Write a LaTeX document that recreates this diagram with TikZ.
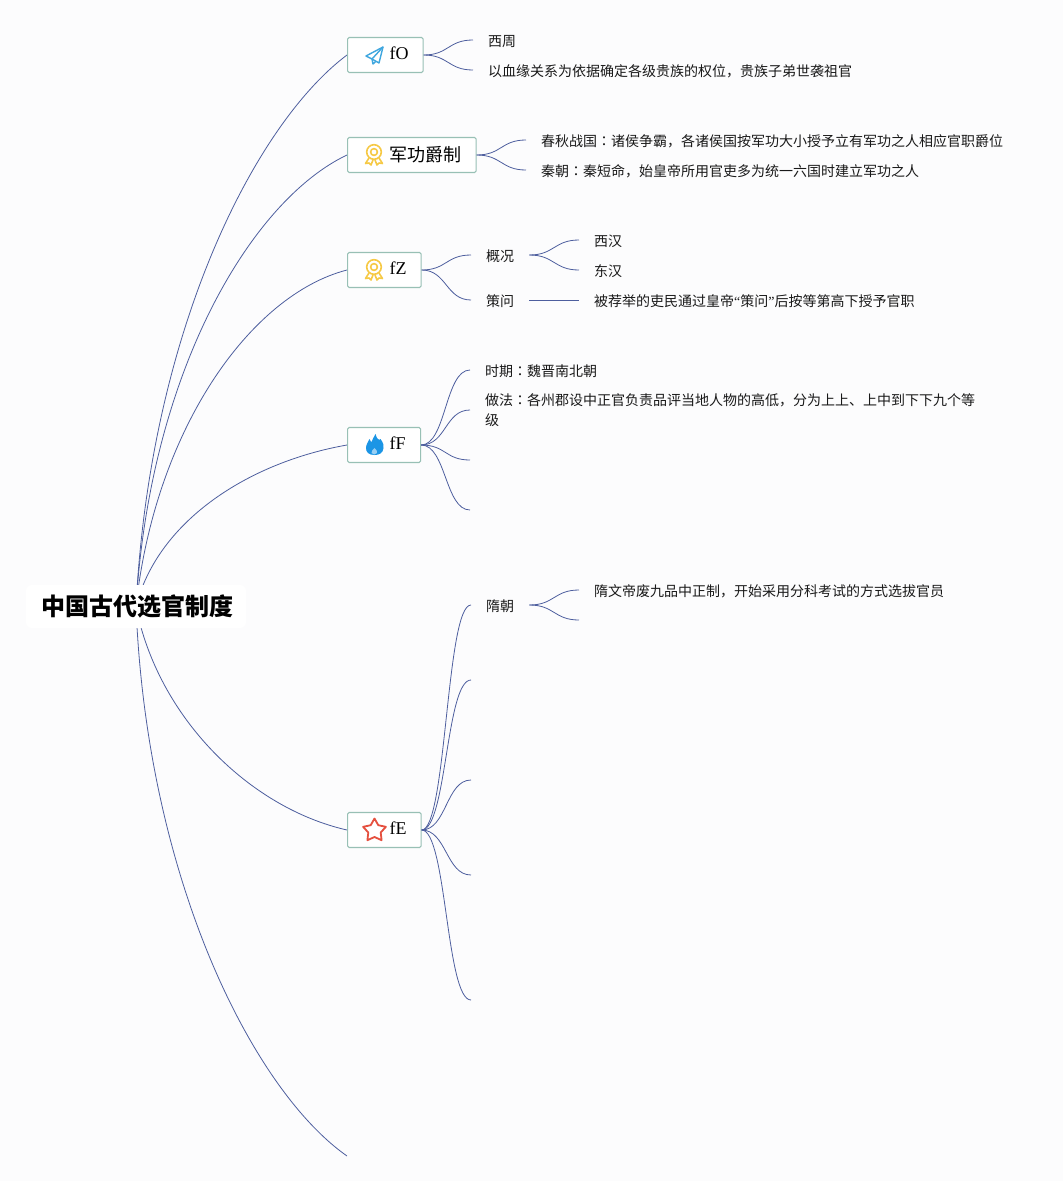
\documentclass[tikz,border=0pt]{standalone}
\usepackage{fontspec}
\setmainfont{Liberation Serif}
\newfontfamily\cjk{Noto Sans CJK SC}
\newfontfamily\cjktc{Noto Sans CJK TC}
\usetikzlibrary{calc,backgrounds}
\definecolor{linkc}{HTML}{4D5E9E}
\definecolor{topicb}{HTML}{98C0B5}
\definecolor{bgc}{HTML}{FCFCFD}
\definecolor{planec}{HTML}{3FA7DF}
\definecolor{rosec}{HTML}{F6C945}
\definecolor{flamec}{HTML}{1B95E5}
\definecolor{starc}{HTML}{E5503F}
\tikzset{
  link/.style={draw=linkc,line width=0.8pt},
  topic/.style={draw=topicb,fill=white,line width=1.1pt,rounded corners=1.5pt,inner xsep=0pt,inner ysep=0pt,minimum height=35pt,anchor=west},
  leaf/.style={anchor=west,inner xsep=15pt,inner ysep=0pt,text height=13pt,text depth=0.5pt,font=\fontsize{14}{20.5}\selectfont\cjk,align=left,text=black!90},
  rootn/.style={fill=white,rounded corners=6pt,inner sep=0pt,minimum width=220pt,minimum height=43pt,font=\fontsize{24}{28}\selectfont\cjk\bfseries},
}
\newcommand\co{{\cjktc ：}}
\newcommand\rl[3]{\draw[link] (root.center) .. controls #2 and #3 .. #1;}
\newcommand\br[2]{\draw[link] #1 .. controls ($#1+(25,0)$) and ($#2+(-25,0)$) .. #2;}
\newcommand\topictext[2]{\makebox[#1pt][l]{\hspace{42pt}\raisebox{3pt}{\fontsize{18}{20}\selectfont #2}\vphantom{O}}}
\newcommand\rosette[1]{\begin{scope}[shift={#1},draw=rosec,line width=1.6pt,line join=round]
  \draw (0,-3) circle (7.3);
  \draw (0,-3) circle (3.4);
  \draw (-5,3) -- (-8.5,8.5) -- (-5,8) -- (-3,10) -- (-1,5);
  \draw (5,3) -- (8.5,8.5) -- (5,8) -- (3,10) -- (1,5);
\end{scope}}
\begin{document}
\begin{tikzpicture}[x=1pt,y=-1pt]
\useasboundingbox (0,0) rectangle (1063,1181);
\coordinate (tail) at (347,1156);
\node[topic] (fO) at (347,55) {\topictext{75.5}{fO}};
\node[topic] (jg) at (347,155) {\topictext{128.5}{\cjk 军功爵制}};
\node[topic] (fZ) at (347,270) {\topictext{73.5}{fZ}};
\node[topic] (fF) at (347,445) {\topictext{73}{fF}};
\node[topic] (fE) at (347,830) {\topictext{73.5}{fE}};
\node[rootn] (root) at (136,606.5) {\hspace*{2pt}中国古代选官制度};
\begin{scope}[on background layer]
\fill[bgc] (0,0) rectangle (1063,1181);
\rl{(fO.west)}{(150,330)}{(255,124)}
\rl{(jg.west)}{(150,370)}{(252,200)}
\rl{(fZ.west)}{(155,430)}{(250,295)}
\rl{(fF.west)}{(158,520)}{(250,462)}
\rl{(fE.west)}{(158,718)}{(250,808)}
\rl{(tail)}{(147,880)}{(253,1090)}
\end{scope}
% icons
\begin{scope}[shift={(374,55)},draw=planec,line width=1.4pt,line join=round]
  \draw (9,-8) -- (-8,1) -- (-2,4) -- (5,8) -- cycle;
  \draw (9,-8) -- (-2,4) -- (-1,9) -- (2,6.2);
\end{scope}
\rosette{(374,155)}
\rosette{(374,270)}
\begin{scope}[shift={(374.5,445)}]
  \fill[flamec] (1,-11) .. controls (2,-6) and (5,-4) .. (6,-6) .. controls (9,-2) and (9.5,1) .. (9,3)
    .. controls (8.5,8) and (5,10) .. (0,10) .. controls (-6,10) and (-8.5,7) .. (-8.5,3)
    .. controls (-8.5,-1) and (-6,-3) .. (-5,-6) .. controls (-4,-4) and (-3.5,-3) .. (-3,-3) .. controls (-2,-5) and (-1,-8) .. (1,-11) -- cycle;
  \fill[flamec!45!white] (0,3) .. controls (2,5) and (3,6) .. (2.5,8) .. controls (1,10) and (-2,10) .. (-3,8) .. controls (-3.5,6) and (-1.5,5) .. (0,3) -- cycle;
\end{scope}
\begin{scope}[shift={(374.5,830.5)}]
  \draw[starc,line width=1.8pt,line join=round] (0,-12) -- (3.8,-5.3) -- (11.4,-3.7) -- (6.2,2) -- (7.1,9.7) -- (0,6.5) -- (-7.1,9.7) -- (-6.2,2) -- (-11.4,-3.7) -- (-3.8,-5.3) -- cycle;
\end{scope}
% fO
\node[leaf] (a1) at (473,40) {西周};
\node[leaf] (a2) at (473,70) {以血缘关系为依据确定各级贵族的权位，贵族子弟世袭祖官};
\br{(fO.east)}{(a1.west)}
\br{(fO.east)}{(a2.west)}
% military
\node[leaf] (b1) at (526,140) {春秋战国\co 诸侯争霸，各诸侯国按军功大小授予立有军功之人相应官职爵位};
\node[leaf] (b2) at (526,170) {秦朝\co 秦短命，始皇帝所用官吏多为统一六国时建立军功之人};
\br{(jg.east)}{(b1.west)}
\br{(jg.east)}{(b2.west)}
% fZ
\node[leaf] (c1) at (471,255) {概况};
\node[leaf] (c2) at (471,300) {策问};
\node[leaf] (c3) at (579,240) {西汉};
\node[leaf] (c4) at (579,270) {东汉};
\node[leaf] (c5) at (579,300) {被荐举的吏民通过皇帝{\rmfamily “}策问{\rmfamily ”}后按等第高下授予官职};
\br{(fZ.east)}{(c1.west)}
\br{(fZ.east)}{(c2.west)}
\br{(c1.east)}{(c3.west)}
\br{(c1.east)}{(c4.west)}
\draw[link] (c2.east) -- (c5.west);
% fF
\node[leaf] (d1) at (470,370) {时期\co 魏晋南北朝};
\node[leaf,anchor=north west] (d2) at (470,412.5) {做法\co 各州郡设中正官负责品评当地人物的高低，分为上上、上中到下下九个等\\级};
\coordinate (d2c) at (470,410);
\coordinate (d3) at (470,460);
\coordinate (d4) at (470,510);
\br{(fF.east)}{(d1.west)}
\br{(fF.east)}{(d2c)}
\br{(fF.east)}{(d3)}
\br{(fF.east)}{(d4)}
% fE
\node[leaf] (e1) at (471,605) {隋朝};
\node[leaf] (e1a) at (579,590) {隋文帝废九品中正制，开始采用分科考试的方式选拔官员};
\coordinate (e1b) at (579,620);
\coordinate (e2) at (471,680);
\coordinate (e3) at (471,780);
\coordinate (e4) at (471,875);
\coordinate (e5) at (471,1000);
\br{(fE.east)}{(e1.west)}
\br{(fE.east)}{(e2)}
\br{(fE.east)}{(e3)}
\br{(fE.east)}{(e4)}
\br{(fE.east)}{(e5)}
\br{(e1.east)}{(e1a.west)}
\br{(e1.east)}{(e1b)}
\end{tikzpicture}
\end{document}
